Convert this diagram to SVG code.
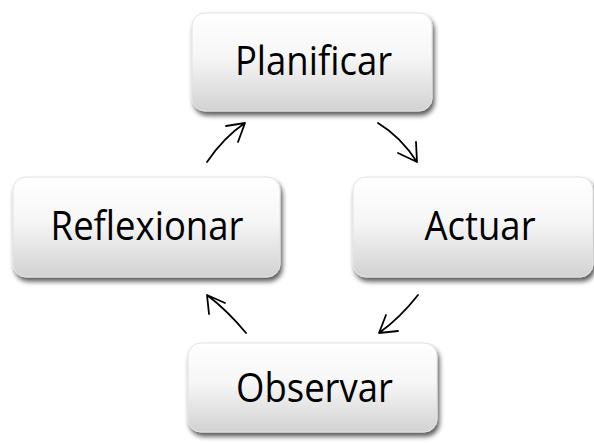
<svg xmlns="http://www.w3.org/2000/svg" width="594" height="443" viewBox="0 0 594 443">
<defs>
<linearGradient id="g" x1="0" y1="0" x2="0" y2="1">
<stop offset="0" stop-color="#ffffff"/>
<stop offset="0.45" stop-color="#f6f6f6"/>
<stop offset="1" stop-color="#d2d2d2"/>
</linearGradient>
<filter id="sh" x="-10%" y="-10%" width="125%" height="140%">
<feGaussianBlur in="SourceAlpha" stdDeviation="2.5"/>
<feOffset dx="2" dy="4" result="b"/>
<feComponentTransfer><feFuncA type="linear" slope="0.65"/></feComponentTransfer>
<feMerge><feMergeNode/><feMergeNode in="SourceGraphic"/></feMerge>
</filter>
</defs>
<style>
.box{fill:url(#g);stroke:#e2e2e2;stroke-width:1;filter:url(#sh)}
.lbl{font-family:"Open Sans","Noto Sans",sans-serif;font-size:36.5px;fill:#000;text-anchor:middle}
.arr{fill:none;stroke:#000;stroke-width:1.8;stroke-linecap:round;stroke-linejoin:round}
</style>
<rect width="594" height="443" fill="#fff"/>
<g id="planificar">
<rect class="box" x="192" y="13" width="240" height="98" rx="13"/>
<text class="lbl" transform="translate(313.5,75) scale(1,1.08)">Planificar</text>
</g>
<g id="reflexionar">
<rect class="box" x="13" y="177" width="267" height="100" rx="13"/>
<text class="lbl" transform="translate(147,240) scale(1,1.08)">Reflexionar</text>
</g>
<g id="actuar">
<rect class="box" x="353" y="177" width="240" height="100" rx="13"/>
<text class="lbl" transform="translate(480,240) scale(1,1.08)">Actuar</text>
</g>
<g id="observar">
<rect class="box" x="188" y="343" width="249" height="89" rx="13"/>
<text class="lbl" transform="translate(314.5,402) scale(1,1.08)">Observar</text>
</g>
<g id="connectors">
<path class="arr" d="M207,162 Q224,137 245,123 M226,126 L245,123 L238,142"/>
<path class="arr" d="M378,123 Q401,137 417,162 M398,153 L417,162 L416,142"/>
<path class="arr" d="M418,295 Q400,318 379,333 M386,315 L379,333 L398,331"/>
<path class="arr" d="M246,333 Q228,311 207,295 M209,314 L207,295 L225,303"/>
</g>
</svg>
